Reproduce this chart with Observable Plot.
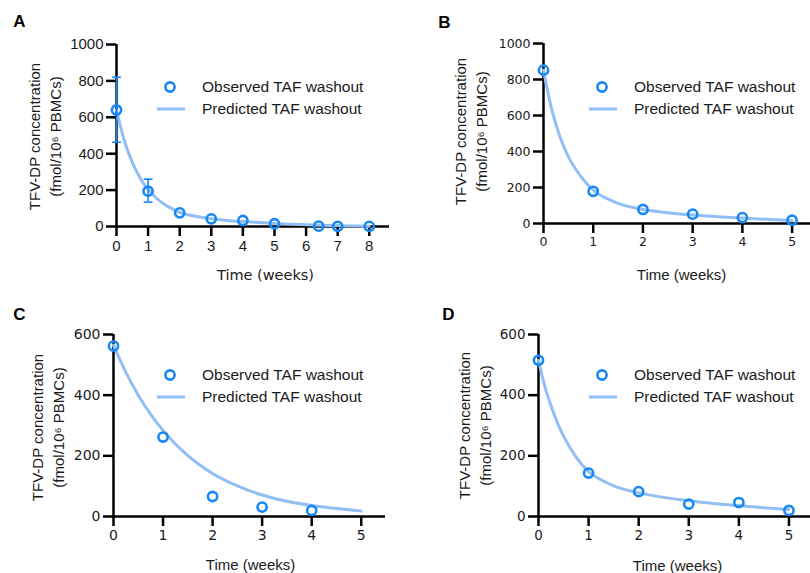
<!DOCTYPE html>
<html><head><meta charset="utf-8">
<script src="https://cdn.jsdelivr.net/npm/d3@7"></script>
<script src="https://cdn.jsdelivr.net/npm/@observablehq/plot@0.6"></script>
<style>
body{margin:0;background:#fff;}
#root{position:relative;width:810px;height:573px;overflow:hidden;font-family:"Liberation Sans",Arial,sans-serif;color:#1a1a1a;}
.panel{position:absolute;}
.leg{position:absolute;font-size:15.5px;line-height:1;white-space:nowrap;}
</style></head><body><div id="root"></div>
<script>
// ---------- data ----------
const legendObserved = "Observed TAF washout";
const legendPredicted = "Predicted TAF washout";
const yTitle = "TFV-DP concentration\n(fmol/10\u2076 PBMCs)";
const xTitle = "Time (weeks)";

// Panel A
const obsWeeksA = [0, 1, 2, 3, 4, 5, 6.4, 7, 8];
const obsA      = [640, 194, 75, 42, 33, 15, 2, 1, 1];
const errWeeksA = [0, 1];
const errLowA   = [463, 134];
const errHighA  = [820, 260];
const predWeeksA = [0, 0.25, 0.5, 0.75, 1, 1.25, 1.5, 1.75, 2, 2.5, 3, 3.5, 4, 4.5, 5, 5.5, 6, 6.5, 7, 7.5, 8];
const predA      = [640, 470, 352, 265, 203, 158, 124, 98, 78, 56, 42, 33, 27, 22, 17, 13, 10, 7, 5, 3, 2];
const xTicksA = [0, 1, 2, 3, 4, 5, 6, 7, 8];
const yTicksA = [0, 200, 400, 600, 800, 1000];

// Panel B
const obsWeeksB = [0, 1, 2, 3, 4, 5];
const obsB      = [852, 179, 78, 52, 33, 18];
const predWeeksB = [0, 0.125, 0.25, 0.375, 0.5, 0.75, 1, 1.25, 1.5, 2, 2.5, 3, 3.5, 4, 4.5, 5];
const predB      = [852, 680, 550, 450, 372, 262, 185, 142, 112, 78, 60, 47, 38, 30, 23, 17];
const xTicksB = [0, 1, 2, 3, 4, 5];
const yTicksB = [0, 200, 400, 600, 800, 1000];

// Panel C
const obsWeeksC = [0, 1, 2, 3, 4];
const obsC      = [562, 262, 66, 31, 20];
const predWeeksC = [0, 0.25, 0.5, 0.75, 1, 1.25, 1.5, 1.75, 2, 2.5, 3, 3.5, 4, 4.5, 5];
const predC      = [565, 475, 400, 337, 284, 239, 201, 169, 142, 101, 71, 50, 36, 26, 18];
const xTicksC = [0, 1, 2, 3, 4, 5];
const yTicksC = [0, 200, 400, 600];

// Panel D
const obsWeeksD = [0, 1, 2, 3, 4, 5];
const obsD      = [515, 143, 82, 41, 46, 20];
const predWeeksD = [0, 0.125, 0.25, 0.375, 0.5, 0.75, 1, 1.25, 1.5, 2, 2.5, 3, 3.5, 4, 4.5, 5];
const predD      = [515, 430, 365, 310, 265, 196, 148, 121, 101, 78, 63, 52, 43, 36, 29, 23];
const xTicksD = [0, 1, 2, 3, 4, 5];
const yTicksD = [0, 200, 400, 600];

// ---------- style ----------
const DOT = "#1787f4";
const LINE = "#91bef4";
const SANS = "Liberation Sans, Arial, sans-serif";
const VERD = "DejaVu Sans, Verdana, sans-serif";

const zip = (xs, ys) => xs.map((x, i) => ({x, y: ys[i]}));

const panels = [
  {letter: "A", left: 0, top: 0, width: 405, height: 290, ml: 116, mr: 16, mt: 44, mb: 64,
   xmax: 8.64, ymax: 1000, obs: zip(obsWeeksA, obsA), pred: zip(predWeeksA, predA),
   err: errWeeksA.map((x, i) => ({x, lo: errLowA[i], hi: errHighA[i]})),
   xTicks: xTicksA, yTicks: yTicksA, tickFont: SANS, tickSize: 15, xTitleFont: VERD, xTitleSize: 14.5,
   letterPos: [19, 21], yTitlePos: [43, 136], xTitlePos: [265, 275], legPos: [170, 87]},
  {letter: "B", left: 405, top: 0, width: 405, height: 290, ml: 138, mr: 0, mt: 43, mb: 67,
   xmax: 5.37, ymax: 1000, obs: zip(obsWeeksB, obsB), pred: zip(predWeeksB, predB), err: [],
   xTicks: xTicksB, yTicks: yTicksB, tickFont: VERD, tickSize: 12.5, xTitleFont: SANS, xTitleSize: 15,
   letterPos: [39, 22], yTitlePos: [64, 131], xTitlePos: [276, 275], legPos: [197, 87]},
  {letter: "C", left: 0, top: 290, width: 405, height: 283, ml: 113, mr: 20, mt: 44, mb: 57,
   xmax: 5.49, ymax: 600, obs: zip(obsWeeksC, obsC), pred: zip(predWeeksC, predC), err: [],
   xTicks: xTicksC, yTicks: yTicksC, tickFont: VERD, tickSize: 14, xTitleFont: SANS, xTitleSize: 15,
   letterPos: [19, 24], yTitlePos: [46, 137], xTitlePos: [250, 275], legPos: [170, 85]},
  {letter: "D", left: 405, top: 290, width: 405, height: 283, ml: 133, mr: 0, mt: 44, mb: 57,
   xmax: 5.43, ymax: 600, obs: zip(obsWeeksD, obsD), pred: zip(predWeeksD, predD), err: [],
   xTicks: xTicksD, yTicks: yTicksD, tickFont: VERD, tickSize: 13.5, xTitleFont: SANS, xTitleSize: 15,
   letterPos: [43, 24], yTitlePos: [68, 135], xTitlePos: [272, 276], legPos: [197, 85]}
];

const root = document.getElementById("root");

for (const p of panels) {
  const rel = ([px, py]) => ({frameAnchor: "top-left", dx: px - p.ml, dy: py - p.mt, textAnchor: "middle", lineAnchor: "middle"});
  const capHalf = 0.14;
  const chart = Plot.plot({
    width: p.width, height: p.height,
    marginLeft: p.ml, marginRight: p.mr, marginTop: p.mt, marginBottom: p.mb,
    style: {background: "transparent", color: "#1a1a1a", overflow: "visible"},
    x: {domain: [0, p.xmax]},
    y: {domain: [0, p.ymax]},
    marks: [
      Plot.axisX({ticks: p.xTicks, tickSize: 10, tickPadding: 4, strokeWidth: 2.5, stroke: "#000",
                  fontSize: p.tickSize, fontFamily: p.tickFont, label: null, tickFormat: d => String(d)}),
      Plot.axisY({ticks: p.yTicks, tickSize: 10, tickPadding: 3, strokeWidth: 2.5, stroke: "#000",
                  fontSize: p.tickSize, fontFamily: p.tickFont, label: null, tickFormat: d => String(d)}),
      Plot.ruleY([0], {stroke: "#000", strokeWidth: 2.5}),
      Plot.ruleX([0], {stroke: "#000", strokeWidth: 2.5}),
      Plot.line(p.pred, {x: "x", y: "y", stroke: LINE, strokeWidth: 3, curve: "monotone-x"}),
      Plot.ruleX(p.err, {x: "x", y1: "lo", y2: "hi", stroke: DOT, strokeWidth: 1.6}),
      Plot.link(p.err, {x1: d => d.x - capHalf, x2: d => d.x + capHalf, y1: "hi", y2: "hi", stroke: DOT, strokeWidth: 1.6}),
      Plot.link(p.err, {x1: d => d.x - capHalf, x2: d => d.x + capHalf, y1: "lo", y2: "lo", stroke: DOT, strokeWidth: 1.6}),
      Plot.dot(p.obs, {x: "x", y: "y", r: 4.6, stroke: DOT, strokeWidth: 2.6, fill: "none"}),
      Plot.text([p.letter], {text: d => d, ...rel(p.letterPos), fontSize: 17, fontWeight: "bold", fontFamily: SANS, fill: "#000"}),
      Plot.text([yTitle], {text: d => d, ...rel(p.yTitlePos), rotate: -90, fontSize: 15, lineHeight: 1.4, fontFamily: SANS, fill: "#1a1a1a"}),
      Plot.text([xTitle], {text: d => d, ...rel(p.xTitlePos), fontSize: p.xTitleSize, fontFamily: p.xTitleFont, fill: "#1a1a1a"})
    ]
  });
  const wrap = document.createElement("div");
  wrap.className = "panel";
  wrap.style.left = p.left + "px";
  wrap.style.top = p.top + "px";
  wrap.appendChild(chart);
  root.appendChild(wrap);

  // legend (HTML, placed over the panel)
  const [lx, ly] = p.legPos;
  const lg = document.createElement("div");
  lg.className = "leg";
  lg.style.left = (p.left + lx - 16) + "px";
  lg.style.top = (p.top + ly - 11) + "px";
  lg.innerHTML =
    `<div style="display:flex;align-items:center;height:22px">` +
      `<svg width="48" height="22" style="display:block"><circle cx="16" cy="11" r="4.6" fill="none" stroke="${DOT}" stroke-width="2.6"/></svg>` +
      `<span>${legendObserved}</span></div>` +
    `<div style="display:flex;align-items:center;height:22px">` +
      `<svg width="48" height="22" style="display:block"><line x1="3" x2="31" y1="11" y2="11" stroke="${LINE}" stroke-width="3"/></svg>` +
      `<span>${legendPredicted}</span></div>`;
  root.appendChild(lg);
}
</script>
</body></html>
